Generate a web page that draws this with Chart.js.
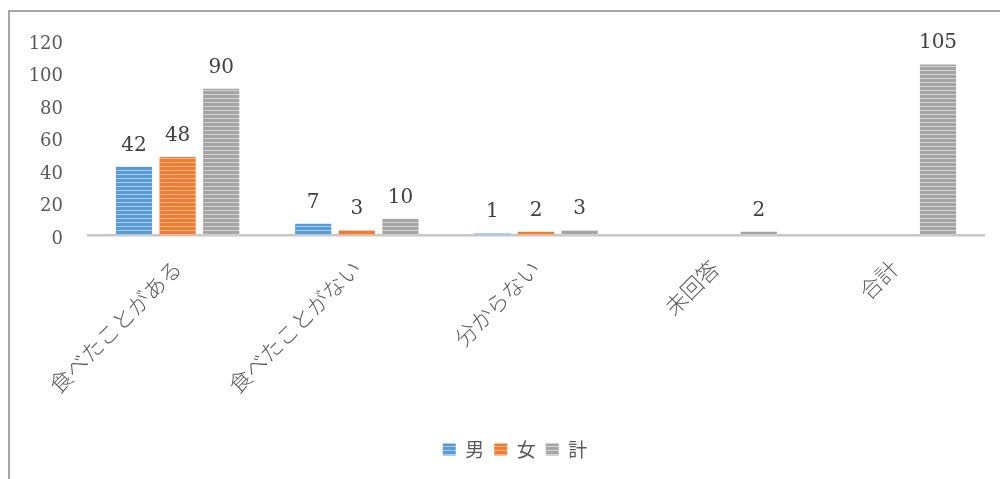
<!DOCTYPE html>
<html>
<head>
<meta charset="utf-8">
<script src="https://cdn.jsdelivr.net/npm/chart.js@4"></script>
<style>
  body { margin: 0; background: #fff; }
  #wrap { position: relative; width: 1000px; height: 479px; overflow: hidden; }
  #frame {
    position: absolute; left: 8px; top: 10px; width: 1000px; height: 480px;
    border-top: 2px solid #a6a6a6; border-left: 2px solid #a6a6a6;
    pointer-events: none;
  }
  canvas { position: absolute; left: 0; top: 0; }
</style>
</head>
<body>
<div id="wrap">
  <canvas id="chart" width="1000" height="479"></canvas>
  <div id="frame"></div>
</div>
<script>
// chart data
const categories = ['食べたことがある', '食べたことがない', '分からない', '未回答', '合計'];
const seriesNames = ['男', '女', '計'];
const maleValues = [42, 7, 1, null, null];
const femaleValues = [48, 3, 2, null, null];
const totalValues = [90, 10, 3, 2, 105];
const yMax = 120;
const yStep = 20;

const numFont = 'DejaVu Serif';
const jpFont = 'Noto Sans CJK JP';

// striped fill like the office "horizontal lines" pattern
function stripes(base, light) {
    const c = document.createElement('canvas');
    c.width = 4;
    c.height = 4;
    const g = c.getContext('2d');
    g.fillStyle = base;
    g.fillRect(0, 0, 4, 4);
    g.fillStyle = light;
    g.fillRect(0, 2, 4, 1);
    return g.createPattern(c, 'repeat');
}

// draws the value above each bar
const valueLabels = {
    id: 'valueLabels',
    afterDatasetsDraw(chart) {
        const ctx = chart.ctx;
        ctx.save();
        ctx.font = '20px "' + numFont + '"';
        ctx.fillStyle = '#404040';
        ctx.textAlign = 'center';
        ctx.textBaseline = 'alphabetic';
        chart.data.datasets.forEach((ds, i) => {
            chart.getDatasetMeta(i).data.forEach((bar, j) => {
                const v = ds.data[j];
                if (v === null || v === undefined) return;
                ctx.fillText(v, bar.x, bar.y - 16);
            });
        });
        ctx.restore();
    }
};

// legend sits a bit right of the canvas centre in the original
const legendShift = {
    id: 'legendShift',
    afterLayout(chart) {
        chart.legend.left += 19;
        chart.legend.right += 19;
    }
};

const ctx = document.getElementById('chart').getContext('2d');
new Chart(ctx, {
    type: 'bar',
    data: {
        labels: categories,
        datasets: [
            { label: seriesNames[0], data: maleValues, backgroundColor: stripes('#5b9bd5', '#a9cbec') },
            { label: seriesNames[1], data: femaleValues, backgroundColor: stripes('#ed7d31', '#f6b48a') },
            { label: seriesNames[2], data: totalValues, backgroundColor: stripes('#a5a5a5', '#d4d4d4') }
        ]
    },
    options: {
        responsive: false,
        animation: false,
        categoryPercentage: 0.73,
        barPercentage: 0.83,
        layout: { padding: { left: 8, right: 16, top: 40, bottom: 10 } },
        plugins: {
            tooltip: { enabled: false },
            legend: {
                position: 'bottom',
                labels: {
                    boxWidth: 13,
                    boxHeight: 12,
                    padding: 10,
                    color: '#595959',
                    font: { family: jpFont, size: 19 }
                }
            }
        },
        scales: {
            x: {
                grid: { display: false, drawTicks: false },
                border: { display: true, color: '#c8c8c8', width: 2.5 },
                ticks: {
                    color: '#595959',
                    font: { family: jpFont, size: 22, weight: '300' },
                    minRotation: 45,
                    maxRotation: 45,
                    padding: 20
                },
                afterFit(scale) { scale.height = 195; }
            },
            y: {
                min: 0,
                max: yMax,
                grid: { display: false, drawTicks: false },
                border: { display: false },
                ticks: {
                    stepSize: yStep,
                    color: '#595959',
                    font: { family: numFont, size: 18 },
                    padding: 25,
                    labelOffset: 4
                },
                afterFit(scale) { scale.width = 80; }
            }
        }
    },
    plugins: [valueLabels, legendShift]
});
</script>
</body>
</html>
